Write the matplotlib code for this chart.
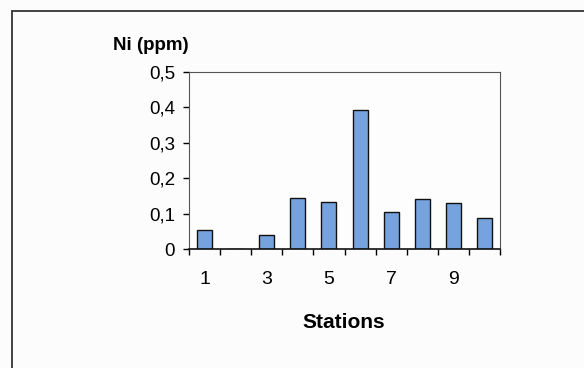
import numpy as np
import matplotlib.pyplot as plt
from matplotlib.patches import Rectangle

plt.rcParams['font.family'] = ['Liberation Sans', 'DejaVu Sans']

# Données
stations = [1, 2, 3, 4, 5, 6, 7, 8, 9, 10]
ni_ppm = [0.053, 0.0, 0.040, 0.145, 0.133, 0.393, 0.104, 0.142, 0.129, 0.088]
station_labels = ['1', '', '3', '', '5', '', '7', '', '9', '']
y_ticks = [0, 0.1, 0.2, 0.3, 0.4, 0.5]
y_labels = ['0', '0,1', '0,2', '0,3', '0,4', '0,5']

fig = plt.figure(figsize=(5.84, 3.68), dpi=100)
fig.patch.set_facecolor('#fbfcfb')

# cadre extérieur
fig.patches.append(Rectangle((12 / 584, -0.05), 1.1, 1 - 11 / 368 + 0.05,
                             transform=fig.transFigure, fill=False,
                             edgecolor='#333333', linewidth=1.3))

ax = fig.add_axes([189 / 584, 1 - 249 / 368, 311 / 584, 177 / 368])
ax.set_facecolor('#fdfdfd')

ax.bar(stations, ni_ppm, width=0.48, color='#76a3dd', edgecolor='#111111', linewidth=1.0)

ax.set_xlim(0.5, 10.5)
ax.set_ylim(0, 0.5)

# graduations entre les catégories (style tableur), étiquettes au centre
ax.set_xticks(np.arange(0.5, 11, 1))
ax.set_xticklabels([])
ax.set_xticks(stations, minor=True)
ax.set_xticklabels(station_labels, minor=True, fontsize=14)
ax.tick_params(axis='x', which='major', direction='out', length=4, width=1)
ax.tick_params(axis='x', which='minor', length=0, pad=16)

ax.set_yticks(y_ticks)
ax.set_yticklabels(y_labels, fontsize=13.5)
ax.tick_params(axis='y', direction='out', length=4, width=1, pad=6)

for s in ['top', 'right', 'left']:
    ax.spines[s].set_color('#555555')
    ax.spines[s].set_linewidth(0.8)
ax.spines['bottom'].set_color('#111111')
ax.spines['bottom'].set_linewidth(1.2)

fig.text(113 / 584, 1 - 45 / 368, 'Ni (ppm)', fontsize=13.5, fontweight='bold',
         ha='left', va='center')
fig.text(344 / 584, 1 - 322 / 368, 'Stations', fontsize=15, fontweight='bold',
         ha='center', va='center')

fig.savefig('out.png', dpi=100, facecolor=fig.get_facecolor())
